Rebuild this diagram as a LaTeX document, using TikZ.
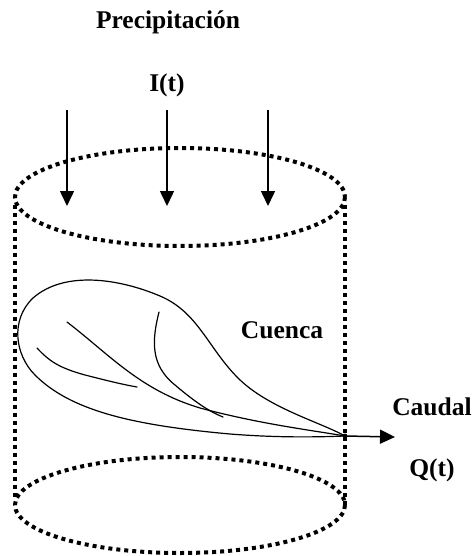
\documentclass[tikz,border=0pt]{standalone}
\usepackage{fontspec}
\setmainfont{Liberation Serif}
\usetikzlibrary{arrows.meta}
\begin{document}
\begin{tikzpicture}[x=1pt,y=-1pt,
  label/.style={font=\fontsize{25.5}{28}\selectfont\bfseries, inner sep=0pt},
  rim/.style={line width=4pt, dash pattern=on 4pt off 4pt},
  flow/.style={line width=1.5pt, -{Triangle[length=15pt,width=14pt]}},
  basin/.style={line width=1.2pt, line cap=round, line join=round}]
\useasboundingbox (0,0) rectangle (475,556);

% labels
\node[label] (prec) at (168,22) {Precipitación};
\node[label] (it) at (167,85) {I(t)};
\node[label] (cuenca) at (282,330) {Cuenca};
\node[label] (caudal) at (432,407) {Caudal};
\node[label] (qt) at (432,470) {Q(t)};

% control volume: dotted cylinder
\draw[rim] (180,197) ellipse [x radius=165, y radius=49];
\draw[rim] (180,505) ellipse [x radius=165, y radius=48];
\draw[rim] (15,205) -- (15,500);
\draw[rim] (345,205) -- (345,505);

% rainfall input
\foreach \x/\n in {67/a,167/b,268/c}{
  \coordinate (r\n0) at (\x,110);
  \coordinate (r\n1) at (\x,206);
  \draw[flow] (r\n0) -- (r\n1);
}

% catchment outline
\coordinate (outlet) at (345,436);
\draw[basin] (outlet)
  .. controls (320,422) and (268,408) .. (238,378)
  .. controls (208,348) and (198,312) .. (160,296)
  .. controls (120,279) and (65,270) .. (33,298)
  .. controls (10,320) and (15,355) .. (35,375)
  .. controls (70,410) and (130,425) .. (230,434)
  .. controls (280,438) and (320,437) .. (outlet);

% drainage network
\draw[basin] (67,322) .. controls (110,355) and (140,390) .. (200,408)
  .. controls (260,424) and (310,430) .. (outlet);
\draw[basin] (159,312) .. controls (152,340) and (150,365) .. (175,385)
  .. controls (195,402) and (210,412) .. (223,417);
\draw[basin] (37,348) .. controls (50,362) and (60,368) .. (85,375)
  .. controls (105,380) and (120,384) .. (137,387);

% outflow
\coordinate (out1) at (395,437);
\fill (outlet) circle (2.4pt);
\draw[flow] (outlet) -- (out1);
\end{tikzpicture}
\end{document}
